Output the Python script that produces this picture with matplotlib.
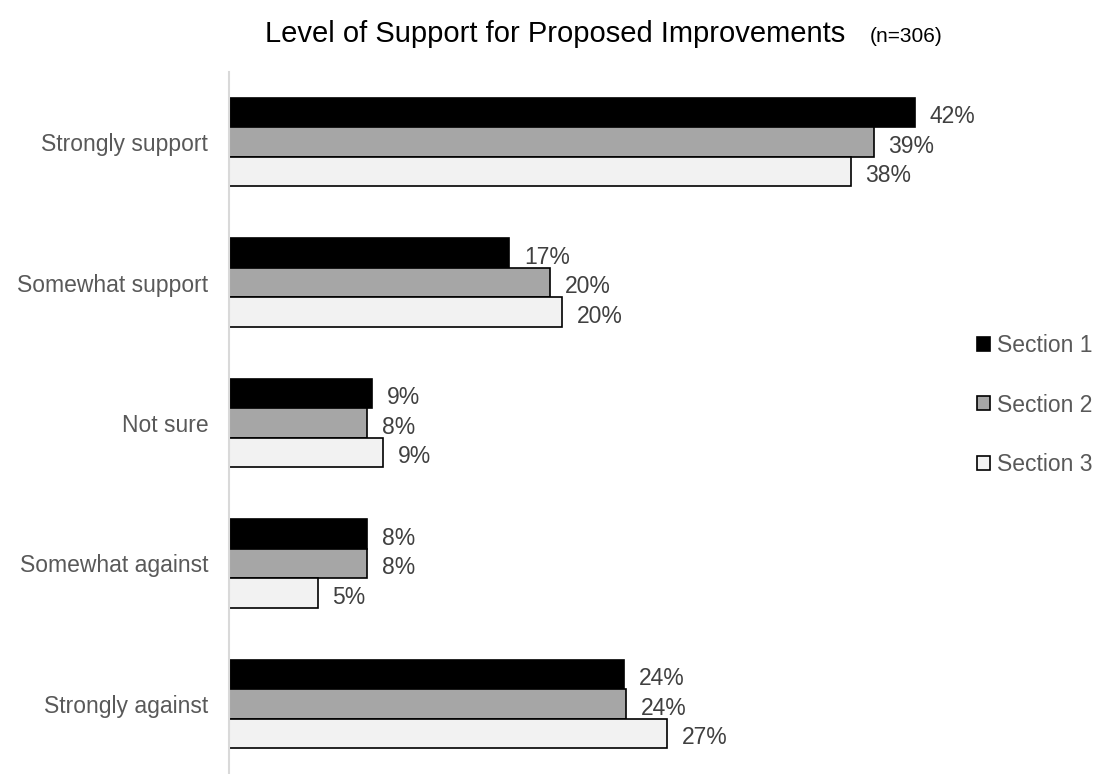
import matplotlib
matplotlib.use("Agg")
import matplotlib.pyplot as plt
from matplotlib.patches import Patch
import numpy as np

plt.rcParams['font.family'] = ['Liberation Sans', 'DejaVu Sans']

categories = ["Strongly support", "Somewhat support", "Not sure", "Somewhat against", "Strongly against"]
series_names = ["Section 1", "Section 2", "Section 3"]
section1 = [41.8, 17.1, 8.7, 8.4, 24.1]
section2 = [39.3, 19.6, 8.4, 8.4, 24.2]
section3 = [37.9, 20.3, 9.4, 5.4, 26.7]
colors = ["#000000", "#a6a6a6", "#f2f2f2"]

fig = plt.figure(figsize=(11, 7.74), dpi=100)
ax = fig.add_axes([229/1100, 0, (1000-229)/1100, (774-72)/774])

y = np.arange(len(categories))
h = 0.21
for i, (vals, col, name) in enumerate(zip([section1, section2, section3], colors, series_names)):
    pos = y + (i - 1) * h
    ax.barh(pos, vals, height=h, color=col, edgecolor="#000000", linewidth=1.2, label=name, zorder=3)
    for p, v in zip(pos, vals):
        ax.text(v + 0.9, p + 0.03, f"{round(v)}%", va="center", ha="left", fontsize=16.5,
                color="#404040", clip_on=False)

ax.set_ylim(len(categories) - 0.5, -0.5)
ax.set_xlim(0, (1000-229)/16.4)
ax.set_yticks(y)
ax.set_yticklabels(categories, fontsize=16.5, color="#595959")
ax.tick_params(axis='y', length=0, pad=15)
ax.set_xticks([])
for s in ["top", "right", "bottom"]:
    ax.spines[s].set_visible(False)
ax.spines["left"].set_color("#d9d9d9")
ax.spines["left"].set_linewidth(1.5)
ax.spines["left"].set_zorder(4)

handles = [Patch(facecolor=c, edgecolor="#000000", linewidth=1.2) for c in colors]
fig.legend(handles, series_names, loc="center left", bbox_to_anchor=(977/1100, 1 - 405/774),
           frameon=False, fontsize=16.5, labelcolor="#595959", handlelength=0.57, handleheight=0.57,
           handletextpad=0.3, labelspacing=1.6, borderpad=0, borderaxespad=0)

fig.text(845/1100, 1 - 42/774, "Level of Support for Proposed Improvements", ha="right", va="baseline",
         fontsize=21, color="#000000")
fig.text(870/1100, 1 - 42/774, "(n=306)", ha="left", va="baseline", fontsize=15, color="#000000")

fig.savefig("out.png", dpi=100)
